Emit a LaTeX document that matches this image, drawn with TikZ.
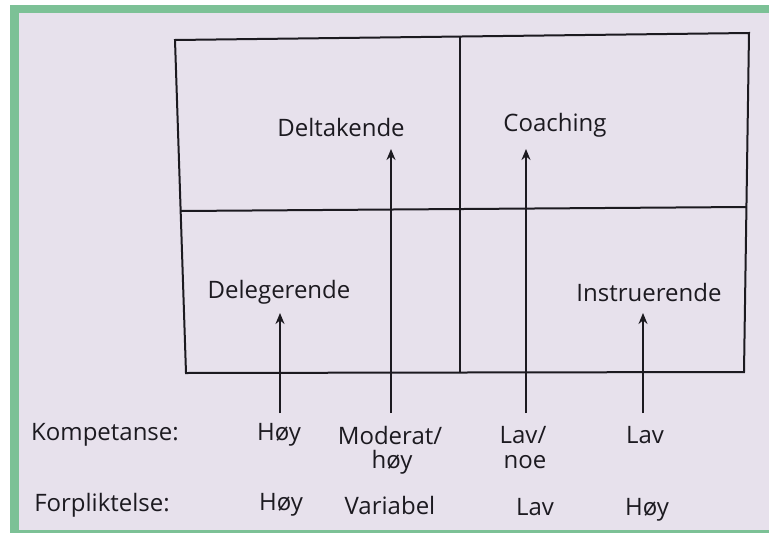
\documentclass[tikz,border=0pt]{standalone}
\usepackage{fontspec}
\setmainfont{Open Sans}
\usetikzlibrary{arrows.meta,positioning}
\definecolor{pagebg}{RGB}{231,225,236}
\definecolor{frame}{RGB}{124,193,150}
\definecolor{ink}{RGB}{28,26,32}

\tikzset{
  lbl/.style={font=\fontsize{24}{27}\selectfont, text=ink, inner sep=1pt},
  grid/.style={draw=ink, line width=2pt},
  pil/.style={draw=ink, line width=1.6pt, -{Stealth[length=11pt,width=9pt]}}
}

\begin{document}
\begin{tikzpicture}[x=1pt, y=-1pt]
  % page and frame
  \fill[white] (0,0) rectangle (769,533);
  \fill[frame] (10,5) rectangle (769,533);
  \fill[pagebg] (19,13) rectangle (769,530);
  \useasboundingbox (0,0) rectangle (769,533);

  % the four squares
  \draw[grid] (175,40) -- (749,33) -- (744,372) -- (186,373) -- cycle;
  \draw[grid] (460,37) -- (460,373);
  \draw[grid] (181,211) -- (746,207);

  % styles
  \node[lbl] (delt)   at (341,127) {Deltakende};
  \node[lbl] (coach)  at (555,125) {Coaching};
  \node[lbl] (deleg)  at (279,292) {Delegerende};
  \node[lbl] (instr)  at (649,292) {Instruerende};

  % row labels
  \node[lbl] (komp)   at (105,435) {Kompetanse:};
  \node[lbl] (forp)   at (102,505) {Forpliktelse:};

  \node[lbl] (k1) at (279,435) {Høy};
  \node[lbl] (k2) at (390,435) {Moderat/};
  \node[lbl] (k2b) at (392,462) {høy};
  \node[lbl] (k3) at (523,435) {Lav/};
  \node[lbl] (k3b) at (525,462) {noe};
  \node[lbl] (k4) at (645,435) {Lav};

  \node[lbl] (f1) at (281,505) {Høy};
  \node[lbl] (f2) at (390,505) {Variabel};
  \node[lbl] (f3) at (535,507) {Lav};
  \node[lbl] (f4) at (647,510) {Høy};

  % arrows
  \coordinate (a1) at (280,413);
  \coordinate (a2) at (391,413);
  \coordinate (a3) at (526,413);
  \coordinate (a4) at (643,413);
  \coordinate (t1) at (280,313);
  \coordinate (t2) at (391,149);
  \coordinate (t3) at (526,149);
  \coordinate (t4) at (643,313);
  \path
    (a1) edge[pil] (t1)
    (a2) edge[pil] (t2)
    (a3) edge[pil] (t3)
    (a4) edge[pil] (t4);
\end{tikzpicture}
\end{document}
